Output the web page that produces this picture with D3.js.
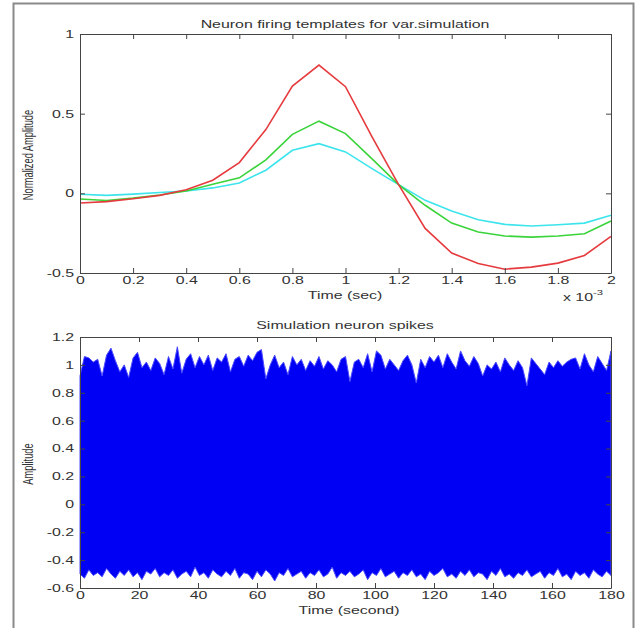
<!DOCTYPE html>
<meta charset="utf-8">
<script src="https://d3js.org/d3.v7.min.js"></script>
<style>
  body { margin: 0; background: #fff; }
  text { font-family: "Liberation Sans", Arial, sans-serif; fill: #333; }
</style>
<div id="my_dataviz"></div>
<script>

// ---- top panel: neuron templates (time in units of 1e-3 s)
var templateTime = [0, 0.1, 0.2, 0.3, 0.4, 0.5, 0.6, 0.7, 0.8, 0.9, 1.0,
                    1.1, 1.2, 1.3, 1.4, 1.5, 1.6, 1.7, 1.8, 1.9, 2.0];
var redTemplate   = [-0.061, -0.052, -0.034, -0.013, 0.022, 0.082, 0.193, 0.40, 0.673, 0.805, 0.669,
                     0.354, 0.055, -0.22, -0.375, -0.44, -0.476, -0.463, -0.438, -0.39, -0.27];
var greenTemplate = [-0.036, -0.045, -0.03, -0.01, 0.015, 0.057, 0.097, 0.21, 0.37, 0.453, 0.375,
                     0.216, 0.055, -0.075, -0.187, -0.243, -0.268, -0.275, -0.268, -0.254, -0.174];
var cyanTemplate  = [-0.006, -0.013, -0.005, 0.005, 0.015, 0.034, 0.065, 0.145, 0.27, 0.312, 0.26,
                     0.155, 0.055, -0.044, -0.111, -0.166, -0.195, -0.205, -0.197, -0.187, -0.138];
var topXTicks = [0, 0.2, 0.4, 0.6, 0.8, 1, 1.2, 1.4, 1.6, 1.8, 2];
var topYTicks = [-0.5, 0, 0.5, 1];

// ---- bottom panel: spike signal envelope, one peak/trough read every 1.5 s
var spikeUpper = [0.92, 1.06, 1.05, 1.02, 1.04, 0.92, 1.07, 1.12, 1.03, 0.95, 1.0,
                  0.91, 1.05, 1.09, 0.98, 1.02, 0.96, 1.05, 1.01, 0.93, 1.06,
                  0.97, 1.13, 0.94, 1.04, 1.08, 0.98, 1.06, 1.0, 1.07, 0.96,
                  1.05, 1.02, 1.08, 0.95, 1.04, 1.06, 0.99, 1.07, 1.03, 1.09,
                  1.11, 0.9, 1.0, 1.07, 0.98, 1.02, 0.93, 1.06, 1.0, 1.04,
                  0.96, 1.03, 0.99, 1.06, 0.97, 1.03, 1.0, 0.95, 1.04, 1.06,
                  0.88, 1.02, 1.04, 0.98, 1.08, 0.95, 1.1, 1.07, 0.97, 1.04,
                  1.0, 0.96, 1.03, 1.07, 1.0, 0.87, 1.04, 0.98, 1.06, 1.02,
                  1.07, 0.98, 1.08, 1.02, 0.97, 1.1, 1.03, 0.99, 1.06, 1.01,
                  0.92, 1.0, 0.97, 1.02, 0.95, 1.05, 1.0, 0.96, 1.03, 0.98,
                  0.85, 1.05, 1.01, 0.97, 0.93, 1.02, 0.98, 1.03, 0.99, 1.02,
                  1.04, 1.05, 0.97, 1.08, 1.0, 0.95, 1.06, 1.01, 0.96, 1.1];
var spikeLower = [-0.50, -0.53, -0.47, -0.51, -0.49, -0.52, -0.46, -0.50, -0.53, -0.48, -0.51,
                  -0.47, -0.52, -0.49, -0.54, -0.48, -0.50, -0.46, -0.52, -0.49, -0.51,
                  -0.47, -0.53, -0.50, -0.48, -0.52, -0.45, -0.51, -0.49, -0.53, -0.47,
                  -0.50, -0.52, -0.48, -0.51, -0.46, -0.53, -0.49, -0.50, -0.54, -0.48,
                  -0.52, -0.47, -0.50, -0.55, -0.49, -0.51, -0.46, -0.52, -0.50, -0.48,
                  -0.53, -0.49, -0.51, -0.47, -0.52, -0.50, -0.45, -0.53, -0.49, -0.51,
                  -0.48, -0.52, -0.50, -0.47, -0.54, -0.49, -0.51, -0.46, -0.52, -0.50,
                  -0.48, -0.53, -0.49, -0.51, -0.47, -0.52, -0.50, -0.54, -0.48, -0.51,
                  -0.49, -0.46, -0.52, -0.50, -0.53, -0.48, -0.51, -0.47, -0.52, -0.49,
                  -0.50, -0.54, -0.48, -0.51, -0.46, -0.52, -0.50, -0.53, -0.49, -0.51,
                  -0.47, -0.52, -0.50, -0.48, -0.53, -0.49, -0.51, -0.46, -0.52, -0.50,
                  -0.54, -0.48, -0.51, -0.49, -0.53, -0.47, -0.50, -0.52, -0.48, -0.51];
var spikeTime = d3.range(spikeUpper.length).map(function(i) { return i * 1.5; });
var botXTicks = [0, 20, 40, 60, 80, 100, 120, 140, 160, 180];
var botYTicks = [-0.6, -0.4, -0.2, 0, 0.2, 0.4, 0.6, 0.8, 1, 1.2];

var W = 638, H = 628;
var SX = 1.5;   // the picture is stretched horizontally, so is its text
var fmt = function(d) { return String(d); };

var svg = d3.select("#my_dataviz")
  .append("svg")
    .attr("width", W)
    .attr("height", H);

// outer grey frame
svg.append("path")
  .attr("d", "M13.5," + H + "V3.5H633.5V" + H)
  .attr("fill", "none")
  .attr("stroke", "#8a8a8a")
  .attr("stroke-width", 2);

function stretchText(sel) {
  sel.each(function() {
    var t = d3.select(this);
    var prev = t.attr("transform") || "";
    t.attr("transform", prev + " scale(" + SX + ",1)");
  });
}

function drawBox(x, y, xTicks, yTicks) {
  var r = x.range(), b = y.range();
  var g = svg.append("g");
  g.append("g")
    .attr("transform", "translate(0," + b[0] + ")")
    .call(d3.axisBottom(x).tickValues(xTicks).tickFormat(fmt).tickSizeInner(-5).tickSizeOuter(0).tickPadding(3));
  g.append("g")
    .attr("transform", "translate(0," + b[1] + ")")
    .call(d3.axisTop(x).tickValues(xTicks).tickFormat("").tickSizeInner(-5).tickSizeOuter(0));
  g.append("g")
    .attr("transform", "translate(" + r[0] + ",0)")
    .call(d3.axisLeft(y).tickValues(yTicks).tickFormat(fmt).tickSizeInner(-5).tickSizeOuter(0).tickPadding(4));
  g.append("g")
    .attr("transform", "translate(" + r[1] + ",0)")
    .call(d3.axisRight(y).tickValues(yTicks).tickFormat("").tickSizeInner(-5).tickSizeOuter(0));
  g.selectAll(".domain, .tick line").attr("stroke", "#444");
  g.selectAll("text")
    .style("font-size", "10.6px")
    .attr("fill", "#333")
    .call(stretchText);
  return g;
}

function label(txt, x, y, size, rotate) {
  var t = svg.append("text")
    .attr("text-anchor", "middle")
    .style("font-size", size + "px")
    .attr("transform", "translate(" + x + "," + y + ") scale(" + SX + ",1)" + (rotate ? " rotate(-90)" : ""))
    .text(txt);
  return t;
}

// ================= top panel
var x1 = d3.scaleLinear().domain([0, 2]).range([80, 611]);
var y1 = d3.scaleLinear().domain([-0.5, 1]).range([273, 34]);

var series = [
  {values: redTemplate,   color: "#e63b3e"},
  {values: greenTemplate, color: "#3ad43a"},
  {values: cyanTemplate,  color: "#3ce4ec"}
];
var line1 = d3.line()
  .x(function(d, i) { return x1(templateTime[i]); })
  .y(function(d) { return y1(d); });

svg.selectAll(".tmpl")
  .data(series.slice().reverse())
  .enter()
  .append("path")
    .attr("class", "tmpl")
    .attr("d", function(s) { return line1(s.values); })
    .attr("fill", "none")
    .attr("stroke", function(s) { return s.color; })
    .attr("stroke-width", 1.6);

drawBox(x1, y1, topXTicks, topYTicks);

label("Neuron firing templates for var.simulation", 345, 28, 10.6);
label("Time (sec)", 345, 299, 10.6);
label("Normalized Amplitude", 33, 155, 9.3, true);

var expo = svg.append("text")
  .attr("text-anchor", "end")
  .style("font-size", "10.6px")
  .attr("transform", "translate(603,301) scale(" + SX + ",1)");
expo.append("tspan").text("x 10");
expo.append("tspan").attr("dy", -6).style("font-size", "7.5px").text("-3");

// ================= bottom panel
var x2 = d3.scaleLinear().domain([0, 180]).range([80, 611]);
var y2 = d3.scaleLinear().domain([-0.6, 1.2]).range([588, 337]);

var area2 = d3.area()
  .x(function(d, i) { return x2(spikeTime[i]); })
  .y0(function(d, i) { return y2(spikeLower[i]); })
  .y1(function(d) { return y2(d); });

svg.append("path")
  .attr("d", area2(spikeUpper))
  .attr("fill", "#0000f5")
  .attr("stroke", "#4a4aff")
  .attr("stroke-width", 1);

drawBox(x2, y2, botXTicks, botYTicks);

label("Simulation neuron spikes", 345, 329, 10.6);
label("Time (second)", 349, 614, 10.6);
label("Amplitude", 33, 464, 9.3, true);

</script>
